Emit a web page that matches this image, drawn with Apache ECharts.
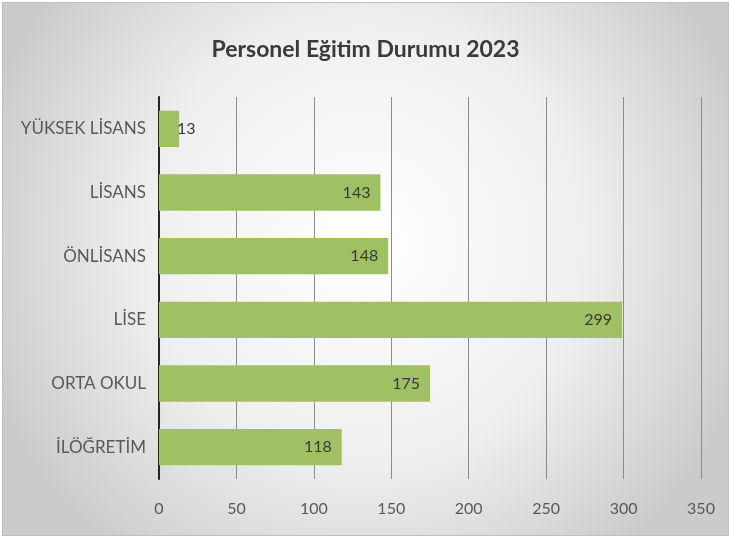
<!DOCTYPE html>
<html><head><meta charset="utf-8">
<script src="https://cdn.jsdelivr.net/npm/echarts@6/dist/echarts.min.js"></script>
<style>
html,body{margin:0;padding:0;background:#fff;}
#wrap{position:absolute;left:2px;top:2px;width:725px;height:532px;border:1px solid #bfbfbf;}
#c{width:725px;height:532px;}
</style></head>
<body><div id="wrap"><div id="c"></div></div>
<script>
const title = 'Personel Eğitim Durumu 2023';
const categories = ['İLÖĞRETİM','ORTA OKUL','LİSE','ÖNLİSANS','LİSANS','YÜKSEK LİSANS'];
const values = [118, 175, 299, 148, 143, 13];
const xTicks = {min: 0, max: 350, interval: 50};

const chart = echarts.init(document.getElementById('c'));
const FONT = 'Lato, "Open Sans", sans-serif';
chart.setOption({
  backgroundColor: {
    type: 'radial', x: 0.5, y: 0.45, r: 0.75,
    colorStops: [{offset: 0, color: '#ffffff'}, {offset: 0.55, color: '#efefef'}, {offset: 1, color: '#cbcbcb'}]
  },
  title: {
    text: title, left: 'center', top: 30,
    textStyle: {fontFamily: FONT, fontSize: 23, fontWeight: 'bold', color: '#3a3a3a'}
  },
  grid: {left: 156, right: 27, top: 94, bottom: 56},
  xAxis: {
    type: 'value', min: xTicks.min, max: xTicks.max, interval: xTicks.interval,
    axisLine: {show: false}, axisTick: {show: false},
    splitLine: {lineStyle: {color: '#8c8c8c', width: 1}},
    axisLabel: {fontFamily: FONT, fontSize: 16, color: '#595959', margin: 22}
  },
  yAxis: {
    type: 'category', data: categories,
    axisLine: {show: true, lineStyle: {color: '#262626', width: 2}},
    axisTick: {show: false},
    axisLabel: {fontFamily: FONT, fontSize: 17, color: '#595959', margin: 13}
  },
  series: [{
    type: 'bar', barWidth: '57%',
    data: values.map(v => v < 30 ? {value: v, label: {position: 'insideLeft', offset: [8, 0]}} : v),
    itemStyle: {color: '#9fc163'},
    label: {show: true, position: 'insideRight', distance: 10, fontFamily: FONT, fontSize: 16, color: '#3a3a3a'}
  }]
});
</script></body></html>
